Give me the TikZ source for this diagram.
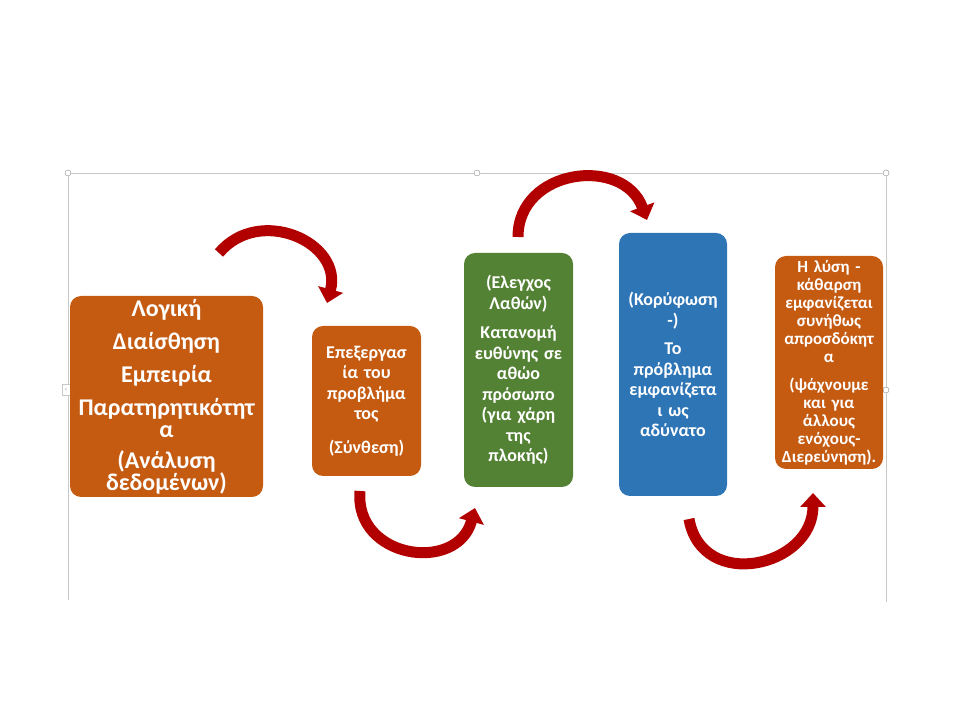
\documentclass[tikz,border=0pt]{standalone}
\usepackage{fontspec}
\setmainfont{Carlito}
\usetikzlibrary{arrows.meta}
\definecolor{boxorange}{RGB}{197,90,17}
\definecolor{boxgreen}{RGB}{84,130,53}
\definecolor{boxblue}{RGB}{46,117,182}
\definecolor{arrowred}{RGB}{178,0,0}
\definecolor{framegray}{RGB}{200,200,200}
\tikzset{
  stagebox/.style={rounded corners=11pt, text=white, align=center, inner sep=0pt,
    font=\bfseries\fontsize{18pt}{20.5pt}\selectfont},
  curlarrow/.style={draw=arrowred, line width=11pt, -{Triangle[width=25pt,length=14pt]}},
  handle/.style={circle, draw=framegray!70!black, fill=white, inner sep=0pt, minimum size=6pt}
}
\begin{document}
\begin{tikzpicture}[x=1pt,y=1pt]
\useasboundingbox (0,0) rectangle (960,720);

% frame of the picture
\coordinate (fbl) at (68,120);
\coordinate (fbr) at (886,118);
\node[handle] (htl) at (68,547) {};
\node[handle] (htm) at (477,547) {};
\node[handle] (htr) at (886,547) {};
\node[handle] (hmr) at (886,330) {};
\draw[framegray, line width=0.8pt] (htl) -- (htm) -- (htr);
\draw[framegray, line width=0.8pt] (htl) -- (fbl);
\draw[framegray, line width=0.8pt] (htr) -- (hmr) -- (fbr);
\node[draw=framegray, fill=white, minimum width=8pt, minimum height=11pt, inner sep=0pt,
  text=gray, font=\fontsize{7pt}{7pt}\selectfont] (tab) at (66,330) {‹};

% stages
\node[stagebox, fill=boxorange, minimum width=193pt, minimum height=201pt, text width=190pt,
  font=\bfseries\fontsize{24pt}{22pt}\selectfont] (logic) at (166.5,323.5)
  {Λογική\\[11pt]Διαίσθηση\\[11pt]Εμπειρία\\[11pt]Παρατηρητικότητ\\α\\[9pt](Ανάλυση\\δεδομένων)};
\node[stagebox, fill=boxorange, minimum width=109pt, minimum height=150pt, text width=107pt] (synth) at (366.5,319)
  {Επεξεργασ\\ία του\\προβλήμα\\τος\\[13pt](Σύνθεση)};
\node[stagebox, fill=boxgreen, minimum width=109pt, minimum height=234pt, text width=107pt] (errors) at (518.5,350)
  {(Ελεγχος\\Λαθών)\\[9pt]Κατανομή\\ευθύνης σε\\αθώο\\πρόσωπο\\(για χάρη\\της\\πλοκής)};
\node[stagebox, fill=boxblue, minimum width=108pt, minimum height=263pt, text width=106pt] (climax) at (673,355.5)
  {(Κορύφωση\\-)\\[8pt]Το\\πρόβλημα\\εμφανίζετα\\ι ως\\αδύνατο};
\node[stagebox, fill=boxorange, minimum width=108pt, minimum height=213pt, text width=106pt,
  font=\bfseries\fontsize{17pt}{18pt}\selectfont] (solution) at (829,357.5)
  {Η λύση -\\κάθαρση\\εμφανίζεται\\συνήθως\\απροσδόκητ\\α\\[10pt](ψάχνουμε\\και για\\άλλους\\ενόχους-\\Διερεύνηση).};

% curled arrows
\coordinate (a1s) at (219,467);
\coordinate (a1e) at (327,417);
\coordinate (a2s) at (360,229);
\coordinate (a2e) at (475,212);
\coordinate (a3s) at (518,483);
\coordinate (a3e) at (647,500);
\coordinate (a4s) at (689,201);
\coordinate (a4e) at (813,227);
\draw[curlarrow] (a1s) to[out=50, in=75, looseness=1.35] (a1e);
\draw[curlarrow] (a2s) to[out=-95, in=-105, looseness=1.5] (a2e);
\draw[curlarrow] (a3s) to[out=90, in=110, looseness=1.35] (a3e);
\draw[curlarrow] (a4s) to[out=-80, in=-90, looseness=1.5] (a4e);
\end{tikzpicture}
\end{document}
